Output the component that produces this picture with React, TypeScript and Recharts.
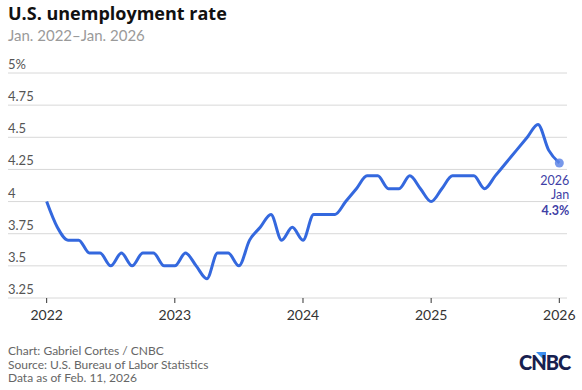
import { LineChart, Line, XAxis, YAxis, CartesianGrid } from 'recharts'

// monthly rate, Jan 2022 – Jan 2026
const rates = [
  4.0, 3.8, 3.7, 3.7, 3.6, 3.6, 3.5, 3.6, 3.5, 3.6, 3.6, 3.5,
  3.5, 3.6, 3.5, 3.4, 3.6, 3.6, 3.5, 3.7, 3.8, 3.9, 3.7, 3.8,
  3.7, 3.9, 3.9, 3.9, 4.0, 4.1, 4.2, 4.2, 4.1, 4.1, 4.2, 4.1,
  4.0, 4.1, 4.2, 4.2, 4.2, 4.1, 4.2, 4.3, 4.4, 4.5, 4.6, 4.4,
  4.3,
]
const yearTicks = [0, 12, 24, 36, 48]
const yearLabels = ['2022', '2023', '2024', '2025', '2026']
const yTicks = [3.25, 3.5, 3.75, 4, 4.25, 4.5, 4.75, 5]
const yLabels = ['3.25', '3.5', '3.75', '4', '4.25', '4.5', '4.75', '5%']
const lastLabel = { year: '2026', month: 'Jan' }

const data = rates.map((rate, i) => ({ i, rate }))

const BLUE = '#3468de'
const FONT = 'Lato, "Open Sans", sans-serif'

function YTick({ y, payload }: any) {
  const idx = yTicks.indexOf(payload.value)
  return (
    <text x={8} y={y - 4} fontSize={13} fill="#555" fontFamily={FONT}>
      {yLabels[idx]}
    </text>
  )
}

function XTick({ x, y, payload }: any) {
  const idx = yearTicks.indexOf(payload.value)
  return (
    <text x={x} y={y + 15} fontSize={14} fill="#333" textAnchor="middle" fontFamily={FONT}>
      {yearLabels[idx]}
    </text>
  )
}

function EndDot({ cx, cy, index, value }: any) {
  if (index !== rates.length - 1) return null
  return (
    <g>
      <circle cx={cx} cy={cy} r={4.5} fill="#5f86e6" fillOpacity={0.85} />
      <text x={cx + 10} y={cy + 22} textAnchor="end" fontSize={12.5} fill="#3f3fa6" fontFamily={FONT}>{lastLabel.year}</text>
      <text x={cx + 10} y={cy + 36} textAnchor="end" fontSize={12.5} fill="#3f3fa6" fontFamily={FONT}>{lastLabel.month}</text>
      <text x={cx + 10} y={cy + 52} textAnchor="end" fontSize={12.5} fontWeight={700} fill="#3f3fa6" fontFamily={FONT}>{`${value}%`}</text>
    </g>
  )
}

export default function App() {
  return (
    <div style={{ position: 'fixed', top: 0, left: 0, width: 582, height: 390, background: '#fff', fontFamily: FONT }}>
      <div style={{ position: 'absolute', left: 8, top: 1, fontSize: 18, fontWeight: 700, color: '#111', fontFamily: '"Open Sans", sans-serif' }}>U.S. unemployment rate</div>
      <div style={{ position: 'absolute', left: 8, top: 26, fontSize: 15, color: '#9a9a9a' }}>Jan. 2022–Jan. 2026</div>

      <div style={{ position: 'absolute', left: 0, top: 0 }}>
        <LineChart width={582} height={390} data={data} margin={{ top: 73, right: 15, bottom: 62, left: -32 }}>
          <CartesianGrid vertical={false} stroke="#d8d8d8" />
          <XAxis
            dataKey="i"
            type="number"
            domain={[-3.62, 48.72]}
            ticks={yearTicks}
            height={30}
            axisLine={false}
            tickSize={5}
            tickLine={{ stroke: '#333' }}
            tick={<XTick />}
          />
          <YAxis
            domain={[3.25, 5]}
            ticks={yTicks}
            width={40}
            axisLine={false}
            tickLine={false}
            tick={<YTick />}
          />
          <Line
            type="monotone"
            dataKey="rate"
            stroke={BLUE}
            strokeWidth={3}
            dot={<EndDot />}
            activeDot={false}
            isAnimationActive={false}
          />
        </LineChart>
      </div>

      <div style={{ position: 'absolute', left: 8, top: 344, fontSize: 12, lineHeight: '13.7px', color: '#666' }}>
        <div>Chart: Gabriel Cortes / CNBC</div>
        <div>Source: U.S. Bureau of Labor Statistics</div>
        <div>Data as of Feb. 11, 2026</div>
      </div>

      <svg style={{ position: 'absolute', left: 0, top: 0 }} width={582} height={390} pointerEvents="none">
        <polygon points="536,352 546,352 546,362" fill="#3d8ef0" />
        <text x={519} y={370} fontSize={20} fontWeight={900} fill="#17204f" letterSpacing={-1} fontFamily={FONT}>CNBC</text>
      </svg>
    </div>
  )
}
